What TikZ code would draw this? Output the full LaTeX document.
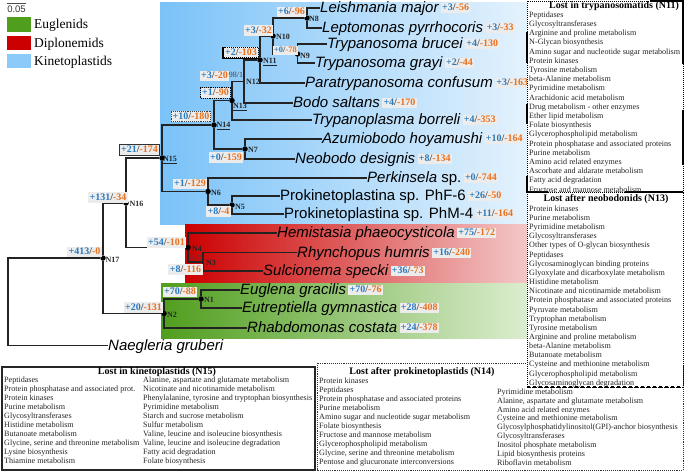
\documentclass[tikz,border=0pt]{standalone}
\usepackage{fontspec}
\setmainfont{Liberation Serif}
\setsansfont{Liberation Sans}
\definecolor{pblue}{RGB}{40,122,192}
\definecolor{porange}{RGB}{232,112,30}
\definecolor{slashc}{RGB}{70,70,70}
\definecolor{labbg}{RGB}{236,236,236}
\definecolor{treec}{RGB}{35,35,35}
\definecolor{kinL}{RGB}{122,194,248}
\definecolor{kinR}{RGB}{228,242,253}
\definecolor{kinleg}{RGB}{140,202,250}
\definecolor{dipL}{RGB}{204,0,0}
\definecolor{dipR}{RGB}{243,200,200}
\definecolor{eugL}{RGB}{80,158,30}
\definecolor{eugR}{RGB}{220,237,207}
\newcommand{\gainloss}[2]{\textcolor{pblue}{+#1}\textcolor{slashc}{/}\textcolor{porange}{-#2}}
\begin{document}
\begin{tikzpicture}[x=1pt,y=-1pt,
  ndot/.style={circle,fill=black,inner sep=0pt,minimum size=5.5pt},
  branch/.style={draw=treec,line width=1.1pt},
  sp/.style={anchor=west,inner sep=0pt,font=\sffamily\itshape\fontsize{15}{18}\selectfont,text height=9pt,text depth=0pt,text=black},
  spup/.style={font=\sffamily\fontsize{15}{18}\selectfont},
  spl/.style={anchor=west,fill=labbg,inner sep=1.2pt,font=\bfseries\fontsize{10}{12}\selectfont,text height=6.6pt,text depth=1pt,xshift=2pt},
  nl/.style={fill=labbg,inner sep=1.5pt,font=\bfseries\fontsize{10}{12}\selectfont,text height=6.8pt,text depth=1pt},
  nname/.style={anchor=west,inner sep=0pt,font=\bfseries\fontsize{8}{9}\selectfont,text=black!85},
  boot/.style={inner sep=0pt,font=\fontsize{8}{9}\selectfont,text=black!75},
  item/.style={anchor=west,inner sep=0pt,font=\fontsize{8.1}{9}\selectfont,text height=5.5pt,text depth=1pt,text=black!85},
  hdr/.style={inner sep=0pt,font=\bfseries\fontsize{10}{12}\selectfont,text height=7pt,text depth=2pt},
  leg/.style={anchor=west,inner sep=0pt,font=\fontsize{13.5}{16}\selectfont,text height=9pt,text depth=2pt}]
\useasboundingbox (0,0) rectangle (685,471);
% clade backgrounds
\shade[left color=kinL,right color=kinR] (160,2) rectangle (527,224);
\shade[left color=dipL,right color=dipR] (185,224) rectangle (527,283);
\shade[left color=eugL,right color=eugR] (161,283) rectangle (527,338);
% scale and legend
\draw[line width=0.6pt,black!70] (7,3.3) -- (26,3.3);
\node[inner sep=0pt,font=\sffamily\fontsize{9.5}{11}\selectfont,text=black!80] (scale) at (16.5,8.8) {0.05};
\fill[eugL] (7,17) rectangle (31,32);
\fill[dipL] (7,36) rectangle (31,50);
\fill[kinleg] (7,54) rectangle (31,68);
\node[leg] (legE) at (34,25) {Euglenids};
\node[leg] (legD) at (34,43.5) {Diplonemids};
\node[leg] (legK) at (34,61.5) {Kinetoplastids};
% internal nodes
\node[ndot] (N8) at (307,18) {};
\node[ndot] (N9) at (297.5,54) {};
\node[ndot] (N10) at (273,36) {};
\node[ndot] (N11) at (260,60) {};
\coordinate (N12) at (244,81.5);
\node[ndot] (N13) at (232,100.5) {};
\node[ndot] (N14) at (214,125) {};
\node[ndot] (N7) at (245,149) {};
\node[ndot] (N15) at (162,158) {};
\node[ndot] (N6) at (208,191.5) {};
\node[ndot] (N5) at (232,205) {};
\node[ndot] (N16) at (126,203) {};
\node[ndot] (N4) at (188,247.5) {};
\coordinate (N3) at (203,262);
\node[ndot] (N17) at (103,258) {};
\node[ndot] (N2) at (164,313.5) {};
\node[ndot] (N1) at (201,299) {};
\coordinate (R) at (8,258);
% species
\node[sp] (s1) at (320,8) {Leishmania major};
\node[sp] (s2) at (322,28) {Leptomonas pyrrhocoris};
\node[sp] (s3) at (327,44) {Trypanosoma brucei};
\node[sp] (s4) at (315,63) {Trypanosoma grayi};
\node[sp] (s5) at (305,83) {Paratrypanosoma confusum};
\node[sp] (s6) at (293,103) {Bodo saltans};
\node[sp] (s7) at (312,120) {Trypanoplasma borreli};
\node[sp] (s8) at (322,139) {Azumiobodo hoyamushi};
\node[sp] (s9) at (295,159) {Neobodo designis};
\node[sp] (s10) at (367,178) {Perkinsela \upshape sp.};
\node[sp,spup] (s11) at (280,196) {Prokinetoplastina sp. PhF-6};
\node[sp,spup] (s12) at (284,214) {Prokinetoplastina sp. PhM-4};
\node[sp] (s13) at (277,233) {Hemistasia phaeocysticola};
\node[sp] (s14) at (297,252.5) {Rhynchopus humris};
\node[sp] (s15) at (263,271) {Sulcionema specki};
\node[sp] (s16) at (240,290) {Euglena gracilis};
\node[sp] (s17) at (242,308) {Eutreptiella gymnastica};
\node[sp] (s18) at (247,328) {Rhabdomonas costata};
\node[sp] (s19) at (108,345.5) {Naegleria gruberi};
% branches
\draw[branch] (N8) |- (s1.west);
\draw[branch] (N8) |- (s2.west);
\draw[branch] (N9) |- (s3.west);
\draw[branch] (N9) |- (s4.west);
\draw[branch] (N10) |- (N8);
\draw[branch] (N10) |- (N9);
\draw[branch] (N11) |- (N10);
\draw[branch] (N11) |- (s5.west);
\draw[branch] (N12) |- (N11);
\draw[branch] (N12) |- (s6.west);
\draw[branch] (N13) |- (N12);
\draw[branch] (N13) |- (s7.west);
\draw[branch] (N14) |- (N13);
\draw[branch] (N14) |- (N7);
\draw[branch] (N7) |- (s8.west);
\draw[branch] (N7) |- (s9.west);
\draw[branch] (N15) |- (N14);
\draw[branch] (N15) |- (N6);
\draw[branch] (N6) |- (s10.west);
\draw[branch] (N6) |- (N5);
\draw[branch] (N5) |- (s11.west);
\draw[branch] (N5) |- (s12.west);
\draw[branch] (N16) |- (N15);
\draw[branch] (N16) |- (N4);
\draw[branch] (N4) |- (s13.west);
\draw[branch] (N4) |- (N3);
\draw[branch] (N3) |- (s14.west);
\draw[branch] (N3) |- (s15.west);
\draw[branch] (N17) |- (N16);
\draw[branch] (N17) |- (N2);
\draw[branch] (N2) |- (N1);
\draw[branch] (N2) |- (s18.west);
\draw[branch] (N1) |- (s16.west);
\draw[branch] (N1) |- (s17.west);
\draw[branch] (N17) -- (R) |- (s19.west);
% species gain/loss
\node[spl] (g1) at (s1.east) {\gainloss{3}{56}};
\node[spl] (g2) at (s2.east) {\gainloss{3}{33}};
\node[spl] (g3) at (s3.east) {\gainloss{4}{130}};
\node[spl] (g4) at (s4.east) {\gainloss{2}{44}};
\node[spl] (g5) at (s5.east) {\gainloss{3}{163}};
\node[spl] (g6) at (s6.east) {\gainloss{4}{170}};
\node[spl] (g7) at (s7.east) {\gainloss{4}{353}};
\node[spl] (g8) at (s8.east) {\gainloss{10}{164}};
\node[spl] (g9) at (s9.east) {\gainloss{8}{134}};
\node[spl] (g10) at (s10.east) {\gainloss{0}{744}};
\node[spl] (g11) at (s11.east) {\gainloss{26}{50}};
\node[spl] (g12) at (s12.east) {\gainloss{11}{164}};
\node[spl] (g13) at (s13.east) {\gainloss{75}{172}};
\node[spl] (g14) at (s14.east) {\gainloss{16}{240}};
\node[spl] (g15) at (s15.east) {\gainloss{36}{73}};
\node[spl] (g16) at (s16.east) {\gainloss{70}{76}};
\node[spl] (g17) at (s17.east) {\gainloss{28}{408}};
\node[spl] (g18) at (s18.east) {\gainloss{24}{378}};
% internal gain/loss labels
\node[nl] (l8) at (291.5,12) {\gainloss{6}{96}};
\node[nl] (l10) at (258.5,30.5) {\gainloss{3}{32}};
\node[nl,font=\bfseries\fontsize{8.5}{10}\selectfont,text height=5.8pt,inner sep=1pt] (l9) at (285.5,50.5) {\gainloss{0}{78}};
\node[nl,draw=black,densely dotted,line width=1pt] (l11) at (241,52.5) {\gainloss{2}{103}};
\draw[line width=1.4pt,black] (l11.north west) |- (l11.south east);
\node[nl] (l12) at (214.5,76) {\gainloss{3}{20}};
\node[boot] (b12) at (236,75) {98/1};
\node[nl,draw=black,densely dotted,line width=1.2pt] (l13) at (215.5,93) {\gainloss{1}{90}};
\node[nl,draw=black!75,densely dotted,line width=0.9pt] (l14) at (191,116.5) {\gainloss{10}{180}};
\node[nl] (l7) at (226,157.5) {\gainloss{0}{159}};
\node[nl,draw=black!80,line width=1.5pt] (l15) at (139.5,150) {\gainloss{21}{174}};
\node[nl] (l6) at (190,184) {\gainloss{1}{129}};
\node[nl] (l5) at (218.5,211.5) {\gainloss{8}{4}};
\node[nl] (l16) at (108,197.5) {\gainloss{131}{34}};
\node[nl] (l4) at (166.5,242.5) {\gainloss{54}{101}};
\node[boot] (b3) at (196,258) {92/1};
\node[nl] (l3) at (185.5,269.5) {\gainloss{8}{116}};
\node[nl] (l17) at (84.5,252) {\gainloss{413}{0}};
\node[nl] (l1) at (180,292) {\gainloss{70}{88}};
\node[nl] (l2) at (143.5,307.5) {\gainloss{20}{131}};
% node names
\node[nname] (t8) at (309,19) {N8};
\node[nname] (t10) at (276,37) {N10};
\node[nname] (t9) at (300,56) {N9};
\node[nname] (t11) at (263,62) {\underline{N11}};
\node[nname] (t12) at (246,82) {N12};
\node[nname] (t13) at (233,107) {\underline{N13}};
\node[nname] (t14) at (216.5,126) {\underline{N14}};
\node[nname] (t7) at (248,150) {N7};
\node[nname] (t15) at (163,160) {\underline{N15}};
\node[nname] (t6) at (211,193) {N6};
\node[nname] (t5) at (235,207) {N5};
\node[nname] (t16) at (129.5,204) {N16};
\node[nname] (t4) at (192,248.5) {N4};
\node[nname] (t3) at (206,262.5) {N3};
\node[nname] (t17) at (105.5,260) {N17};
\node[nname] (t2) at (167,314.5) {N2};
\node[nname] (t1) at (204,300) {N1};
% box N14
\draw[densely dotted,line width=0.9pt,black!80,fill=white] (317,363) rectangle (683,470);
\node[hdr] (h14) at (422,372) {Lost after prokinetoplastids (N14)};
\foreach \t [count=\i] in {Protein kinases,Peptidases,Protein phosphatase and associated proteins,Purine metabolism,Amino sugar and nucleotide sugar metabolism,Folate biosynthesis,Fructose and mannose metabolism,Glycerophospholipid metabolism,{Glycine, serine and threonine metabolism},Pentose and glucuronate interconversions}
  \node[item] (c\i) at (319,{381+(\i-1)*9}) {\t};
\foreach \t [count=\i] in {Pyrimidine metabolism,{Alanine, aspartate and glutamate metabolism},Amino acid related enzymes,Cysteine and methionine metabolism,Glycosylphosphatidylinositol(GPI)-anchor biosynthesis,Glycosyltransferases,Inositol phosphate metabolism,Lipid biosynthesis proteins,Riboflavin metabolism}
  \node[item] (d\i) at (497,{392+(\i-1)*8.9}) {\t};
% box N13
\draw[densely dotted,line width=1pt,black,fill=white] (527,192) rectangle (683,387);
\draw[dashed,line width=1.3pt,black] (527,387) -- (683,387);
\node[hdr] (h13) at (606,199) {Lost after neobodonids (N13)};
\foreach \t [count=\i] in {Protein kinases,Purine metabolism,Pyrimidine metabolism,Glycosyltransferases,Other types of O-glycan biosynthesis,Peptidases,Glycosaminoglycan binding proteins,Glyoxylate and dicarboxylate metabolism,Histidine metabolism,Nicotinate and nicotinamide metabolism,Protein phosphatase and associated proteins,Pyruvate metabolism,Tryptophan metabolism,Tyrosine metabolism,Arginine and proline metabolism,beta-Alanine metabolism,Butanoate metabolism,Cysteine and methionine metabolism,Glycerophospholipid metabolism,Glycosaminoglycan degradation}
  \node[item] (b\i) at (529,{209+(\i-1)*9.16}) {\t};
% box N11
\draw[densely dotted,line width=1pt,black,fill=white] (527,1) rectangle (683,192);
\draw[line width=1.3pt,black] (650,1) -- (683,1) -- (683,64);
\draw[line width=1.3pt,black] (683,110) -- (683,165);
\draw[line width=1.3pt,black] (527,32) -- (527,63);
\draw[line width=1.3pt,black] (527,104) -- (527,124);
\draw[line width=1.3pt,black] (527,176) -- (527,192) -- (548,192);
\draw[line width=1.3pt,black] (625,192) -- (683,192);
\node[hdr] (h11) at (614,6) {Lost in trypanosomatids (N11)};
\foreach \t [count=\i] in {Peptidases,Glycosyltransferases,Arginine and proline metabolism,N-Glycan biosynthesis,Amino sugar and nucleotide sugar metabolism,Protein kinases,Tyrosine metabolism,beta-Alanine metabolism,Pyrimidine metabolism,Arachidonic acid metabolism,Drug metabolism - other enzymes,Ether lipid metabolism,Folate biosynthesis,Glycerophospholipid metabolism,Protein phosphatase and associated proteins,Purine metabolism,Amino acid related enzymes,Ascorbate and aldarate metabolism,Fatty acid degradation,Fructose and mannose metabolism}
  \node[item] (a\i) at (529,{15+(\i-1)*9.2}) {\t};
% box N15
\draw[line width=1.3pt,black!85,fill=white] (2,367) rectangle (315,470);
\node[hdr] (h15) at (157,371.5) {Lost in kinetoplastids (N15)};
\foreach \t [count=\i] in {Peptidases,Protein phosphatase and associated prot.,Protein kinases,Purine metabolism,Glycosyltransferases,Histidine metabolism,Butanoate metabolism,{Glycine, serine and threonine metabolism},Lysine biosynthesis,Thiamine metabolism}
  \node[item] (e\i) at (4,{380.7+(\i-1)*9}) {\t};
\foreach \t [count=\i] in {{Alanine, aspartate and glutamate metabolism},Nicotinate and nicotinamide metabolism,{Phenylalanine, tyrosine and tryptophan biosynthesis},Pyrimidine metabolism,Starch and sucrose metabolism,Sulfur metabolism,{Valine, leucine and isoleucine biosynthesis},{Valine, leucine and isoleucine degradation},Fatty acid degradation,Folate biosynthesis}
  \node[item] (f\i) at (143,{380.7+(\i-1)*9}) {\t};
\end{tikzpicture}
\end{document}
